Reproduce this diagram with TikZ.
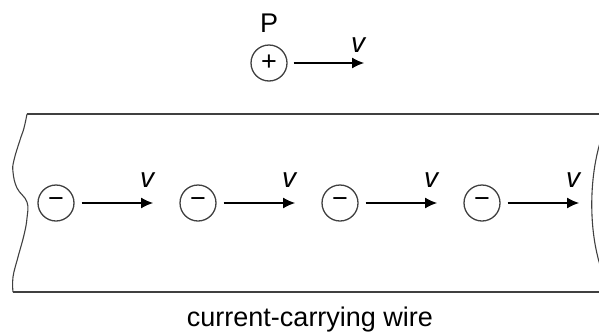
\documentclass[tikz,border=0pt]{standalone}
\usepackage{fontspec}
\setmainfont{Liberation Sans}
\usetikzlibrary{arrows.meta}

\begin{document}
\begin{tikzpicture}[
    x=1pt, y=-1pt,
    charge/.style={draw=black!75, circle, line width=1.3pt, minimum size=36pt, inner sep=0pt, font=\fontsize{27}{27}\selectfont}, % Circled charges
    velarrow/.style={-{Latex[length=12pt,width=11pt]}, line width=1.1pt}, % Velocity arrows
    vlabel/.style={font=\fontsize{28}{28}\selectfont\itshape}, % Italic v
    wire/.style={draw=black!75, line width=1.6pt} % Wire outline
]

    % Page size
    \useasboundingbox (0,0) rectangle (599,335);
    \clip (0,0) rectangle (599,335);

    % Wire outline
    \draw[wire] (27,114) -- (620,114);
    \draw[wire] (13,292) -- (620,292);
    \draw[wire, line width=1.1pt] plot[smooth, tension=0.7] coordinates {(27,114) (24,128) (20,140) (14,160) (13,172) (17,188) (27,202) (27,218) (24,235) (18,257) (13,277) (13,292)};
    \draw[wire, line width=1.1pt] (612,114) .. controls (585,160) and (585,250) .. (612,292);

    % Positive charge P above the wire
    \node[charge] (p) at (269,63) {+};
    \node[font=\fontsize{27}{27}\selectfont] (plabel) at (269,23) {P};
    \coordinate (ptip) at (364,63);
    \draw[velarrow] ([xshift=6pt]p.east) -- (ptip);
    \node[vlabel] (pv) at (358,45) {v};

    % Electrons in the wire
    \node[charge] (e1) at (56,203) {−};
    \node[charge] (e2) at (198,203) {−};
    \node[charge] (e3) at (340,203) {−};
    \node[charge] (e4) at (482,203) {−};

    \coordinate (t1) at (153,203);
    \coordinate (t2) at (295,203);
    \coordinate (t3) at (437,203);
    \coordinate (t4) at (579,203);

    \draw[velarrow] ([xshift=7pt]e1.east) -- (t1);
    \draw[velarrow] ([xshift=7pt]e2.east) -- (t2);
    \draw[velarrow] ([xshift=7pt]e3.east) -- (t3);
    \draw[velarrow] ([xshift=7pt]e4.east) -- (t4);

    \node[vlabel] (v1) at (147,180) {v};
    \node[vlabel] (v2) at (289,180) {v};
    \node[vlabel] (v3) at (431,180) {v};
    \node[vlabel] (v4) at (573,180) {v};

    % Caption
    \node[font=\fontsize{27}{27}\selectfont] (caption) at (310,320) {current-carrying wire};

\end{tikzpicture}
\end{document}
